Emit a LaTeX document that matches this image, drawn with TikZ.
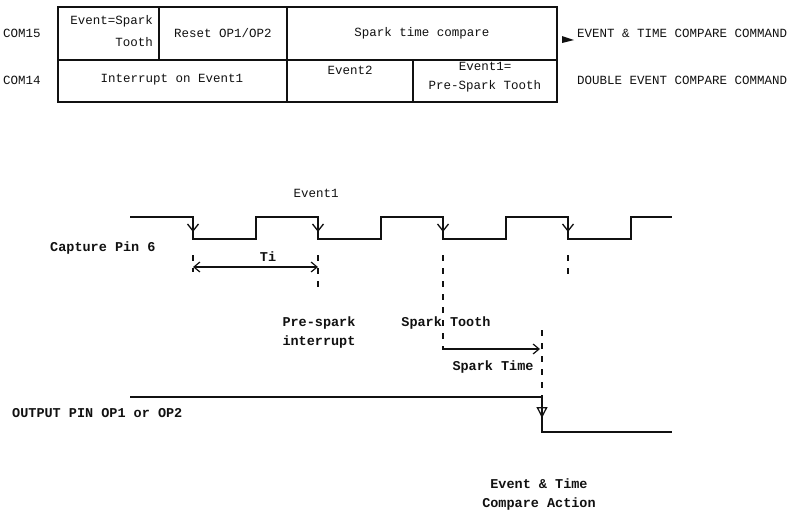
\documentclass[tikz,border=0pt]{standalone}
\usepackage{fontspec}
\setmonofont{Liberation Mono}
\usetikzlibrary{arrows.meta,positioning}
\definecolor{ScanInk}{HTML}{111111}
\tikzset{
  every node/.style={font=\ttfamily\fontsize{12.5}{14}\selectfont, text=ScanInk, inner sep=0pt},
  grid/.style={draw=ScanInk, line width=1.2pt},
  wave/.style={draw=ScanInk, line width=1.5pt},
  guide/.style={draw=ScanInk, line width=1.2pt, dash pattern=on 6pt off 7pt},
  label/.style={font=\ttfamily\bfseries\fontsize{13.5}{18}\selectfont, align=center},
  edgetip/.style={-{Straight Barb[length=7pt,width=11pt]}, draw=ScanInk, line width=1.3pt},
  span/.style={{Straight Barb[length=6pt,width=10pt]}-{Straight Barb[length=6pt,width=10pt]}, draw=ScanInk, line width=1.2pt},
}
\begin{document}
\begin{tikzpicture}[x=1pt,y=-1pt]
  \useasboundingbox (0,0) rectangle (800,515);
  % Command table
  \draw[grid] (58,7) rectangle (557,102);
  \draw[grid] (58,60) -- (557,60);
  \draw[grid] (159,7) -- (159,60);
  \draw[grid] (287,7) -- (287,102);
  \draw[grid] (413,60) -- (413,102);
  \node (com15) at (22,33) {COM15};
  \node (com14) at (22,80) {COM14};
  \node[align=right, anchor=north east] (evspark) at (153,15) {Event=Spark\\[8pt]Tooth};
  \node (reset) at (223,33) {Reset OP1/OP2};
  \node (spcmp) at (422,33) {Spark time compare};
  \node (intev) at (172,80) {Interrupt on Event1};
  \node (ev2) at (350,70) {Event2};
  \node[align=center, anchor=north] (ev1pre) at (485,62) {Event1=\\[5pt]Pre-Spark Tooth};
  \node[anchor=west] (etcmd) at (577,33) {EVENT \& TIME COMPARE COMMAND};
  \node[anchor=west] (decmd) at (577,80) {DOUBLE EVENT COMPARE COMMAND};
  \fill[ScanInk] (562,36) -- (574,40) -- (562,43) -- cycle;
  % Capture waveform
  \node[label, anchor=west] (cappin) at (50,248) {Capture Pin 6};
  \node (event1) at (316,193) {Event1};
  \draw[wave] (130,217) -- (193,217) -- (193,239) -- (256,239) -- (256,217)
    -- (318,217) -- (318,239) -- (381,239) -- (381,217)
    -- (443,217) -- (443,239) -- (506,239) -- (506,217)
    -- (568,217) -- (568,239) -- (631,239) -- (631,217) -- (672,217);
  \foreach \x in {193,318,443,568}
    \draw[edgetip] (\x,218) -- (\x,232);
  % Guides below the falling edges
  \draw[guide] (193,255) -- (193,272);
  \draw[guide] (318,255) -- (318,292);
  \draw[guide] (443,255) -- (443,350);
  \draw[guide] (568,255) -- (568,278);
  \draw[guide] (542,330) -- (542,400);
  % Interval and delay
  \coordinate (tia) at (193,267);
  \coordinate (tib) at (318,267);
  \draw[span] (tia) -- (tib);
  \node[label] (ti) at (268,257) {Ti};
  \node[label] (prespark) at (319,333) {Pre-spark\\[1pt]interrupt};
  \node[label] (sptooth) at (446,323) {Spark Tooth};
  \coordinate (spa) at (443,349);
  \coordinate (spb) at (540,349);
  \draw[-{Straight Barb[length=6pt,width=10pt]}, draw=ScanInk, line width=1.2pt] (spa) -- (spb);
  \node[label] (sptime) at (493,367) {Spark Time};
  % Output waveform
  \node[label, anchor=west] (outpin) at (12,413) {OUTPUT PIN OP1 or OP2};
  \draw[wave] (130,397) -- (542,397) -- (542,432) -- (672,432);
  \draw[-{Triangle[open,length=11pt,width=11pt]}, draw=ScanInk, line width=1.3pt] (542,398) -- (542,418);
  \node[label] (etact) at (539,494) {Event \& Time\\[1pt]Compare Action};
\end{tikzpicture}
\end{document}
